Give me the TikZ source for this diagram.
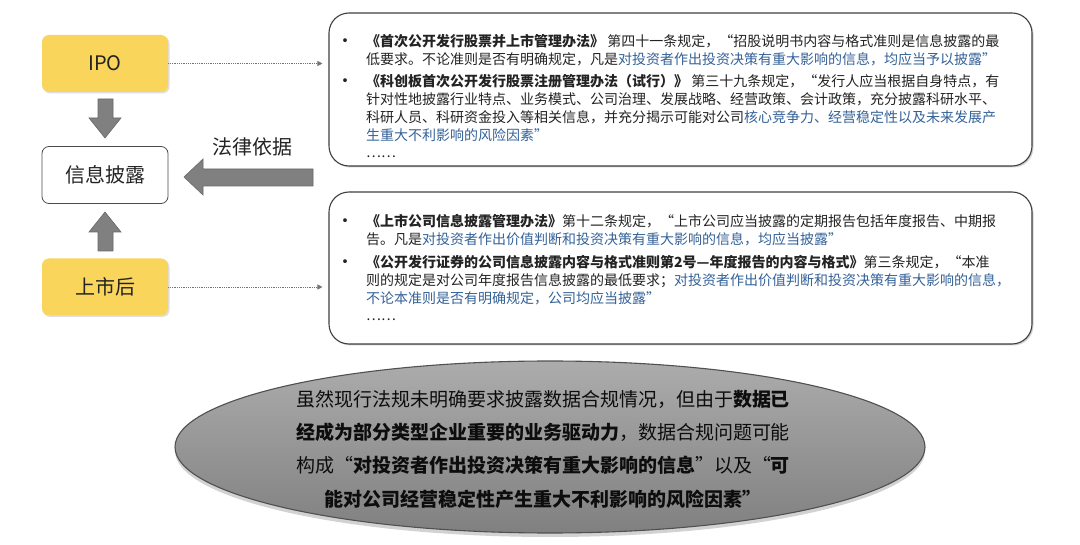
\documentclass[tikz,border=0pt]{standalone}
\usepackage{fontspec}
\setmainfont{Noto Sans CJK SC}
\usetikzlibrary{shadows,arrows.meta,shapes.geometric}
\definecolor{boxyellow}{RGB}{249,213,92}
\definecolor{hl}{RGB}{52,98,152}
\definecolor{txt}{RGB}{35,35,35}
\definecolor{agray}{RGB}{128,128,128}
\definecolor{aedge}{RGB}{105,105,105}
\newcommand{\hb}[1]{\textcolor{hl}{#1}}
\tikzset{
  smallbox/.style={minimum width=126pt,minimum height=57pt,rounded corners=7pt,inner sep=0pt,font=\fontsize{20}{24}\selectfont,text=txt},
  ybox/.style={smallbox,fill=boxyellow,drop shadow={shadow xshift=1.5pt,shadow yshift=-1.5pt,opacity=0.25}},
  wbox/.style={smallbox,fill=white,draw=black!70,line width=0.8pt},
  tbox/.style={draw=black!75,line width=1.1pt,rounded corners=20pt,fill=white,minimum width=703pt,drop shadow={shadow xshift=1.5pt,shadow yshift=-1.5pt,opacity=0.35}},
  lawline/.style={anchor=base west,inner sep=0pt,font=\fontsize{14}{18}\selectfont,text=txt},
  bul/.style={anchor=base,inner sep=0pt,font=\fontsize{18}{20}\selectfont,text=txt},
  elline/.style={anchor=base,inner sep=0pt,font=\fontsize{19}{24}\selectfont,text=black!95},
  blockarrow/.style={fill=agray,draw=aedge,line width=0.6pt},
  dotarrow/.style={densely dotted,draw=black!55,line width=0.8pt,-{Triangle[length=5pt,width=5pt]}}
}
\begin{document}
\begin{tikzpicture}[x=1pt,y=-1pt]
\useasboundingbox[fill=white] (0,0) rectangle (1080,545);

% left boxes
\node[ybox] (ipo) at (105,63.5) {IPO};
\node[wbox] (xxpl) at (105,175) {信息披露};
\node[ybox] (ssh) at (105,287) {上市后};

% block arrows
\draw[blockarrow] (98,99) -- (113,99) -- (113,118) -- (121,118) -- (105,138) -- (89,118) -- (98,118) -- cycle;
\draw[blockarrow] (98,251) -- (113,251) -- (113,232) -- (121,232) -- (105,212) -- (89,232) -- (98,232) -- cycle;
\draw[blockarrow] (313,169) -- (203,169) -- (203,159) -- (184,177) -- (203,195) -- (203,186) -- (313,186) -- cycle;
\node[font=\fontsize{20}{24}\selectfont,text=txt] (flyj) at (252,147) {法律依据};

% text boxes
\node[tbox,minimum height=153pt] (topbox) at (680.5,89.5) {};
\node[tbox,minimum height=152pt] (botbox) at (680.5,268) {};

% dotted connectors
\draw[dotarrow,shorten >=6pt] (ipo.east) -- (ipo.east -| topbox.west);
\draw[dotarrow,shorten >=6pt] (ssh.east) -- (ssh.east -| botbox.west);

% top box text
\node[bul] (tb1) at (345,48) {•};
\node[lawline] (t1) at (366,47) {\textbf{《首次公开发行股票并上市管理办法》} 第四十一条规定，“招股说明书内容与格式准则是信息披露的最};
\node[lawline] (t2) at (366,65) {低要求。不论准则是否有明确规定，凡是\hb{对投资者作出投资决策有重大影响的信息，均应当予以披露”}};
\node[bul] (tb2) at (345,88) {•};
\node[lawline] (t3) at (366,87) {\textbf{《科创板首次公开发行股票注册管理办法（试行）》} 第三十九条规定，“发行人应当根据自身特点，有};
\node[lawline] (t4) at (366,105) {针对性地披露行业特点、业务模式、公司治理、发展战略、经营政策、会计政策，充分披露科研水平、};
\node[lawline] (t5) at (366,123) {科研人员、科研资金投入等相关信息，并充分揭示可能对公司\hb{核心竞争力、经营稳定性以及未来发展产}};
\node[lawline] (t6) at (366,141) {\hb{生重大不利影响的风险因素”}};
\node[lawline] (t7) at (366,158) {……};

% bottom box text
\node[bul] (bb1) at (345,228) {•};
\node[lawline] (b1) at (366,227) {\textbf{《上市公司信息披露管理办法》}第十二条规定，“上市公司应当披露的定期报告包括年度报告、中期报};
\node[lawline] (b2) at (366,245) {告。凡是\hb{对投资者作出价值判断和投资决策有重大影响的信息，均应当披露”}};
\node[bul] (bb2) at (345,269) {•};
\node[lawline] (b3) at (366,268) {\textbf{《公开发行证券的公司信息披露内容与格式准则第2号—年度报告的内容与格式》}第三条规定，“本准};
\node[lawline] (b4) at (366,286) {则的规定是对公司年度报告信息披露的最低要求；\hb{对投资者作出价值判断和投资决策有重大影响的信息，}};
\node[lawline] (b5) at (366,304) {\hb{不论本准则是否有明确规定，公司均应当披露”}};
\node[lawline] (b6) at (366,321) {……};

% ellipse
\node[ellipse,minimum width=750pt,minimum height=172pt,top color={rgb,255:red,172;green,172;blue,172},bottom color={rgb,255:red,128;green,128;blue,128},draw={rgb,255:red,80;green,80;blue,80},line width=1.1pt,drop shadow={shadow xshift=0pt,shadow yshift=-4pt,opacity=0.35}] (ell) at (550,447) {};
\node[elline] (e1) at (543,407) {虽然现行法规未明确要求披露数据合规情况，但由于\textbf{数据已}};
\node[elline] (e2) at (543,440) {\textbf{经成为部分类型企业重要的业务驱动力}，数据合规问题可能};
\node[elline] (e3) at (543,473) {构成“\textbf{对投资者作出投资决策有重大影响的信息}”以及“\textbf{可}};
\node[elline] (e4) at (543,506) {\textbf{能对公司经营稳定性产生重大不利影响的风险因素”}};
\end{tikzpicture}
\end{document}
